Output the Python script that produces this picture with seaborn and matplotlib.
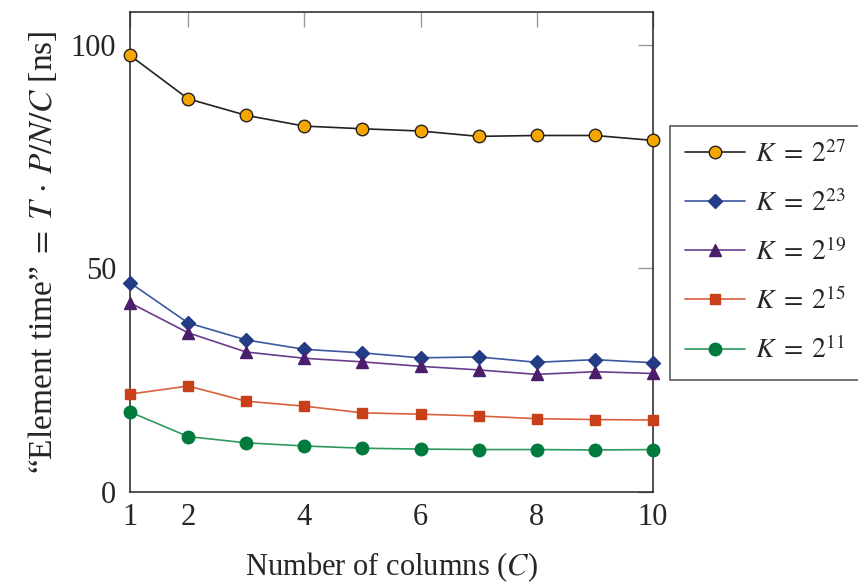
import matplotlib
matplotlib.use("Agg")
import matplotlib.pyplot as plt
import seaborn as sns
import pandas as pd

# Columnas (C) y tiempos por elemento [ns]
columnas = [1, 2, 3, 4, 5, 6, 7, 8, 9, 10]
k27 = [97.6, 87.9, 84.2, 81.8, 81.2, 80.7, 79.5, 79.7, 79.7, 78.6]
k23 = [46.8, 37.8, 34.0, 31.9, 31.1, 30.0, 30.2, 29.0, 29.6, 28.9]
k19 = [42.3, 35.6, 31.3, 29.9, 29.1, 28.1, 27.3, 26.3, 26.9, 26.5]
k15 = [21.9, 23.7, 20.3, 19.2, 17.7, 17.4, 17.0, 16.4, 16.2, 16.1]
k11 = [17.9, 12.4, 11.0, 10.3, 9.8, 9.6, 9.5, 9.5, 9.4, 9.5]

etiquetas = [r"$K\;=\;2^{27}$", r"$K\;=\;2^{23}$", r"$K\;=\;2^{19}$",
             r"$K\;=\;2^{15}$", r"$K\;=\;2^{11}$"]
xticks = [1, 2, 4, 6, 8, 10]
yticks = [0, 50, 100]

series = [k27, k23, k19, k15, k11]
datos = []
for etiqueta, valores in zip(etiquetas, series):
    for c, v in zip(columnas, valores):
        datos.append({'K': etiqueta, 'C': c, 'T': v})
df = pd.DataFrame(datos)

# estilo (linea, relleno marcador, borde marcador, marcador, tamano)
estilos = {
    etiquetas[0]: ('#222222', '#F7A600', '#222222', 'o', 9),
    etiquetas[1]: ('#3A57A0', '#243C86', '#243C86', 'D', 7),
    etiquetas[2]: ('#6A3C8C', '#4A1E6A', '#4A1E6A', '^', 9),
    etiquetas[3]: ('#D8603A', '#C7401A', '#C7401A', 's', 7),
    etiquetas[4]: ('#2E9A5E', '#007A3D', '#007A3D', 'o', 9),
}

sns.set_style("white")
plt.rcParams['font.family'] = ['Liberation Serif', 'DejaVu Serif']
plt.rcParams['mathtext.fontset'] = 'stix'

fig = plt.figure(figsize=(8.58, 5.83), dpi=100)
ax = fig.add_axes([0.1515, 0.156, 0.6096, 0.8234])

for etiqueta in etiquetas:
    linea, relleno, borde, marca, tam = estilos[etiqueta]
    sns.lineplot(data=df[df['K'] == etiqueta], x='C', y='T', ax=ax,
                 color=linea, marker=marca, markersize=tam,
                 markerfacecolor=relleno, markeredgecolor=borde,
                 markeredgewidth=1.0, linewidth=1.2, label=etiqueta,
                 clip_on=False, zorder=3)

ax.set_xlim(1, 10)
ax.set_ylim(0, 107.3)
ax.set_xticks(xticks)
ax.set_yticks(yticks)
ax.tick_params(axis='both', direction='in', length=11, width=1, color='#999999',
               labelsize=22, top=True, right=True)
ax.tick_params(axis='x', pad=8)
ax.tick_params(axis='y', pad=10)
for s in ax.spines.values():
    s.set_color('#222222')
    s.set_linewidth(1.1)

ax.set_xlabel(r"Number of columns ($C$)", fontsize=22, labelpad=13)
ax.set_ylabel(r"“Element time”$\;=\;T\,\cdot\,P/N/C$ [ns]", fontsize=24, labelpad=8)

ax.get_legend().remove()
handles, labels = ax.get_legend_handles_labels()
leg = fig.legend(handles, labels, loc='upper left', bbox_to_anchor=(0.781, 0.784),
                 fontsize=20, frameon=True, fancybox=False, edgecolor='#222222',
                 handlelength=2.15, handletextpad=0.35, labelspacing=0.78,
                 borderpad=0.55, borderaxespad=0)
leg.get_frame().set_linewidth(1.1)

fig.savefig('out.png', dpi=100)
